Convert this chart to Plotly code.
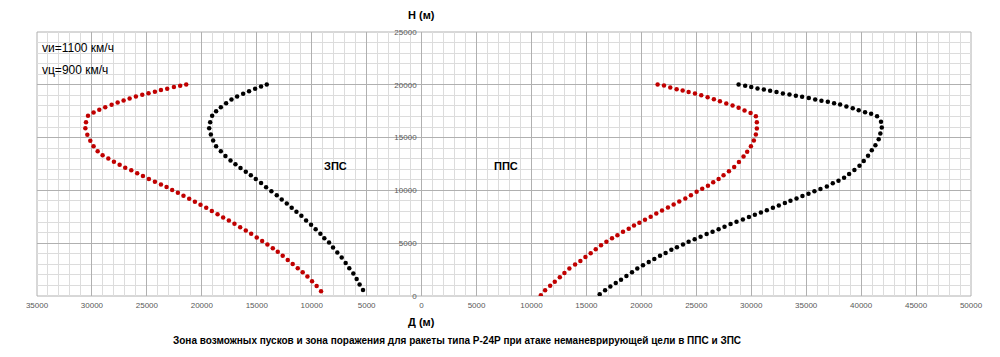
import plotly.graph_objects as go

# ЗПС (left side, negative D), red = zone of destruction, black = launch zone
left_red_d = [-21420, -21970, -22540, -23150, -23720, -24270, -24850, -25420, -26000, -26570,
              -27120, -27660, -28210, -28790, -29330, -29850, -30360, -30540, -30600, -30420,
              -30150, -29850, -29480, -29030, -28510, -28000, -27480, -26970, -26420, -25880,
              -25360, -24820, -24270, -23720, -23210, -22700, -22180, -21670, -21150, -20630,
              -20120, -19600, -19090, -18570, -18060, -17540, -17030, -16510, -16000, -15510,
              -15000, -14510, -14030, -13540, -13090, -12640, -12180, -11730, -11270, -10820,
              -10390, -9970, -9550, -9150]
left_red_h = [20030, 19910, 19780, 19620, 19500, 19340, 19210, 19050, 18900, 18710,
              18520, 18330, 18100, 17880, 17630, 17380, 17060, 16460, 15890, 15260,
              14690, 14180, 13700, 13330, 13010, 12720, 12440, 12150, 11900, 11620,
              11360, 11080, 10820, 10570, 10320, 10030, 9780, 9500, 9210, 8930,
              8640, 8360, 8040, 7750, 7440, 7150, 6840, 6520, 6200, 5890,
              5540, 5220, 4870, 4530, 4180, 3800, 3420, 3040, 2630, 2250,
              1840, 1390, 950, 440]

left_black_d = [-14090, -14610, -15150, -15700, -16240, -16790, -17300, -17790, -18270, -18700,
                -19060, -19240, -19330, -19180, -18970, -18700, -18270, -17850, -17390, -16940,
                -16480, -16000, -15540, -15090, -14610, -14150, -13670, -13180, -12730, -12270,
                -11820, -11390, -10940, -10510, -10060, -9640, -9210, -8850, -8420, -8060,
                -7670, -7270, -6910, -6580, -6210, -5910, -5640, -5330]
left_black_h = [20030, 19850, 19620, 19400, 19150, 18900, 18610, 18260, 17880, 17500,
                17060, 16460, 15890, 15290, 14720, 14180, 13700, 13260, 12820, 12470,
                12120, 11770, 11430, 11080, 10700, 10290, 9910, 9530, 9150, 8770,
                8360, 7980, 7600, 7150, 6740, 6330, 5890, 5480, 5060, 4590,
                4120, 3640, 3130, 2630, 2120, 1610, 1080, 570]

# ППС (right side, positive D)
right_red_d = [21480, 22060, 22630, 23210, 23760, 24300, 24880, 25450, 26030, 26600,
               27150, 27730, 28300, 28850, 29390, 29940, 30420, 30510, 30510, 30420,
               30240, 29970, 29630, 29300, 28880, 28450, 27970, 27480, 27030, 26540,
               26060, 25540, 25030, 24510, 24000, 23450, 22940, 22420, 21880, 21360,
               20850, 20330, 19820, 19330, 18850, 18330, 17820, 17330, 16820, 16330,
               15850, 15390, 14910, 14450, 13970, 13450, 13000, 12580, 12120, 11700,
               11240, 10850]
right_red_h = [20030, 19940, 19750, 19590, 19470, 19310, 19180, 19020, 18830, 18640,
               18450, 18230, 18040, 17820, 17570, 17340, 17030, 16460, 15860, 15290,
               14720, 14180, 13670, 13200, 12690, 12220, 11810, 11430, 11080, 10760,
               10450, 10160, 9880, 9530, 9240, 8960, 8670, 8390, 8100, 7820,
               7500, 7220, 6930, 6680, 6360, 6080, 5760, 5480, 5130, 4810,
               4430, 4050, 3700, 3320, 2980, 2600, 2180, 1770, 1360, 980,
               540, 60]

right_black_d = [28850, 29450, 30000, 30570, 31150, 31720, 32300, 32880, 33480, 34060,
                 34630, 35240, 35820, 36390, 36970, 37540, 38090, 38660, 39240, 39780,
                 40360, 40910, 41450, 41810, 41880, 41750, 41600, 41300, 40970, 40630,
                 40240, 39850, 39390, 38910, 38450, 37940, 37420, 36880, 36300, 35750,
                 35210, 34660, 34120, 33570, 33060, 32510, 31970, 31420, 30880, 30330,
                 29790, 29240, 28660, 28120, 27570, 27030, 26480, 25940, 25390, 24850,
                 24300, 23790, 23240, 22730, 22210, 21700, 21180, 20670, 20150, 19630,
                 19150, 18640, 18150, 17670, 17180, 16700, 16210]
right_black_h = [20030, 19910, 19780, 19660, 19560, 19430, 19310, 19180, 19090, 18960,
                 18860, 18740, 18610, 18480, 18390, 18260, 18140, 17950, 17790, 17600,
                 17410, 17250, 17030, 16490, 15950, 15380, 14840, 14270, 13800, 13290,
                 12790, 12340, 11930, 11550, 11200, 10920, 10670, 10380, 10130, 9910,
                 9690, 9460, 9240, 9020, 8800, 8580, 8360, 8130, 7910, 7690,
                 7470, 7250, 7030, 6810, 6550, 6330, 6080, 5860, 5600, 5380,
                 5130, 4870, 4620, 4370, 4080, 3800, 3510, 3230, 2910, 2600,
                 2250, 1900, 1550, 1230, 890, 540, 160]

x_tick_vals = list(range(-35000, 50001, 5000))
x_tick_text = [str(abs(v)) for v in x_tick_vals]
y_tick_vals = list(range(0, 25001, 5000))
y_tick_text = [str(v) for v in y_tick_vals]

RED = "#C00000"
BLACK = "#000000"
FONT = "Liberation Sans"

fig = go.Figure()
for d, h, c, name in [(left_red_d, left_red_h, RED, "ЗПС пораж."),
                      (left_black_d, left_black_h, BLACK, "ЗПС пуск"),
                      (right_red_d, right_red_h, RED, "ППС пораж."),
                      (right_black_d, right_black_h, BLACK, "ППС пуск")]:
    fig.add_trace(go.Scatter(x=d, y=h, mode="markers", name=name,
                             marker=dict(color=c, size=4.5, line=dict(width=0)),
                             showlegend=False))

fig.update_layout(
    width=1000, height=357,
    margin=dict(l=37, r=29, t=32, b=61),
    paper_bgcolor="white", plot_bgcolor="white",
    font=dict(family=FONT, color="#000000"),
    xaxis=dict(range=[-35000, 50000], tickmode="array", tickvals=x_tick_vals,
               ticktext=x_tick_text, showgrid=True, gridcolor="#b0b0b0", gridwidth=1,
               zeroline=False, showline=False, ticks="", ticklabelstandoff=3,
               tickfont=dict(size=8, color="#595959", family=FONT),
               minor=dict(tickmode="linear", tick0=0, dtick=1000, showgrid=True,
                          gridcolor="#dcdcdc", gridwidth=1)),
    yaxis=dict(range=[0, 25000], tickmode="array", tickvals=y_tick_vals,
               ticktext=y_tick_text,
               anchor="free", position=35000 / 85000, side="left",
               showgrid=True, gridcolor="#b0b0b0", gridwidth=1,
               zeroline=False, showline=False, ticks="", ticklabelstandoff=5,
               tickfont=dict(size=8, color="#595959", family=FONT),
               minor=dict(tickmode="linear", tick0=0, dtick=1000, showgrid=True,
                          gridcolor="#dcdcdc", gridwidth=1)),
)

fig.add_shape(type="rect", xref="paper", yref="paper", x0=0, x1=1, y0=0, y1=1,
              line=dict(color="#b0b0b0", width=1), layer="below")

ann = [
    dict(text="<b>Н (м)</b>", x=0, xref="x", y=15, font=dict(size=11)),
    dict(text="<b>Д (м)</b>", x=0, xref="x", y=322, font=dict(size=11)),
    dict(text="<b>Зона возможных пусков и зона поражения для ракеты типа Р-24Р при атаке неманеврирующей цели в ППС и ЗПС</b>",
         x=457, y=340, font=dict(size=10)),
    dict(text="vи=1100 км/ч", x=40, y=48, xanchor="left", font=dict(size=12)),
    dict(text="vц=900 км/ч", x=40, y=70, xanchor="left", font=dict(size=12)),
    dict(text="<b>ЗПС</b>", x=335, y=166, font=dict(size=11)),
    dict(text="<b>ППС</b>", x=506, y=166, font=dict(size=11)),
]
for a in ann:
    px_x = a.pop("x")
    px_y = a.pop("y")
    xref = a.pop("xref", "paper")
    # convert pixel positions to paper fractions of the plot area
    if xref == "paper":
        xv = (px_x - 37) / (1000 - 37 - 29)
    else:
        xv = px_x
    yv = (357 - 61 - px_y) / (357 - 32 - 61)
    fig.add_annotation(text=a.pop("text"), x=xv, y=yv, xref=xref, yref="paper",
                       showarrow=False, xanchor=a.pop("xanchor", "center"),
                       yanchor="middle", **a)

fig.write_html("out.html", config={"displayModeBar": False},
               post_script="document.body.style.margin='0';")
